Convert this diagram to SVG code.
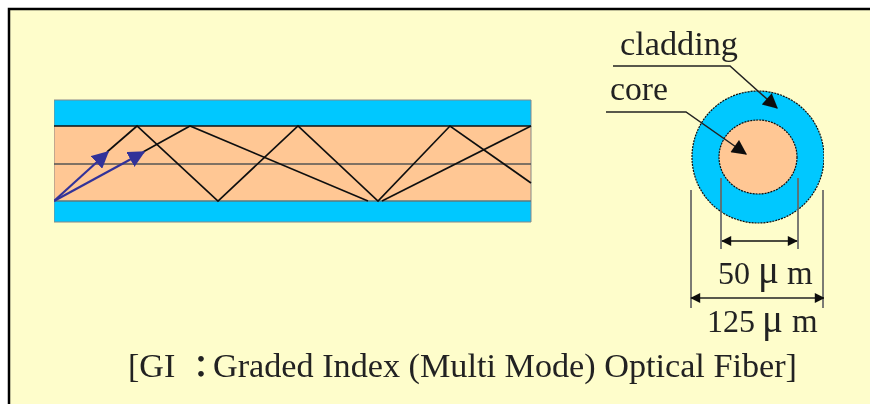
<svg xmlns="http://www.w3.org/2000/svg" width="870" height="404" viewBox="0 0 870 404">
<style>
text{font-family:"Liberation Serif","Times New Roman",serif;fill:#222}
.lbl{font-size:33px}
.mu{font-size:40px}
.cap{font-size:34px}
.ray{fill:none;stroke:#111;stroke-width:1.7}
.axis{fill:none;stroke:#555;stroke-width:1.5}
.dim{fill:none;stroke:#666;stroke-width:1.7}
.lead{fill:none;stroke:#222;stroke-width:1.5}
.clad{fill:#00c8ff}
.core{fill:#ffc794}
</style>
<defs>
<filter id="soft" x="0" y="0" width="100%" height="100%"><feGaussianBlur stdDeviation="0.45"/></filter>
<marker id="blue" viewBox="0 0 12 12" refX="11" refY="6" markerUnits="userSpaceOnUse" markerWidth="17" markerHeight="17" orient="auto"><path d="M0 0L12 6L0 12Z" fill="#333399"/></marker>
<marker id="blk" viewBox="0 0 12 12" refX="11" refY="6" markerUnits="userSpaceOnUse" markerWidth="17" markerHeight="15" orient="auto"><path d="M0 0L12 6L0 12Z" fill="#111"/></marker>
<marker id="dimA" viewBox="0 0 12 12" refX="11" refY="6" markerUnits="userSpaceOnUse" markerWidth="12" markerHeight="10" orient="auto-start-reverse"><path d="M0 0L12 6L0 12Z" fill="#111"/></marker>
</defs>
<rect x="0" y="0" width="870" height="404" fill="#fff"/>
<rect x="9" y="9" width="861" height="395" fill="#fefdcb"/>
<path d="M9 404V9H870" fill="none" stroke="#000" stroke-width="2.5"/>
<g filter="url(#soft)">
<g id="fiber-side">
<rect class="clad" x="54" y="100" width="477" height="26"/>
<rect class="clad" x="54" y="201" width="477" height="21"/>
<rect class="core" x="54" y="126" width="477" height="75"/>
<path d="M54 100H531V222H54Z" fill="none" stroke="#888" stroke-width="1"/>
<path d="M54 126H531" stroke="#111" stroke-width="1.5"/>
<path d="M54 201H531" stroke="#5a7a80" stroke-width="1.5"/>
<path class="axis" d="M54 164H531"/>
</g>
<g id="fiber-section">
<ellipse class="clad" cx="758" cy="157" rx="66" ry="66" stroke="#111" stroke-width="1.2" stroke-dasharray="2 1"/>
<ellipse class="core" cx="758" cy="157" rx="39" ry="37" stroke="#111" stroke-width="1.2" stroke-dasharray="2 1"/>
</g>
<g id="connectors">
<path class="ray" d="M107 152L137 126L218 201L298 126L378 201L450 126L531 183"/>
<path class="ray" d="M143 152L190 126L368 201"/>
<path class="ray" d="M382 201L531 126"/>
<path d="M54 201L108 152" fill="none" stroke="#333399" stroke-width="2.2" marker-end="url(#blue)"/>
<path d="M54 201L144 152" fill="none" stroke="#333399" stroke-width="2.2" marker-end="url(#blue)"/>
<path class="dim" d="M691 190V308M721 178V249M798 178V249M823 190V308"/>
<path d="M722 241H797" fill="none" stroke="#111" stroke-width="1.7" marker-start="url(#dimA)" marker-end="url(#dimA)"/>
<path d="M691 298H824" fill="none" stroke="#222" stroke-width="1.7" marker-start="url(#dimA)" marker-end="url(#dimA)"/>
</g>
<g id="label-cladding">
<text x="620" y="55" style="font-size:34px" textLength="118" lengthAdjust="spacingAndGlyphs">cladding</text>
<path class="lead" d="M613 66H730L777 108" marker-end="url(#blk)"/>
</g>
<g id="label-core">
<text class="lbl" x="610" y="100" textLength="58" lengthAdjust="spacingAndGlyphs">core</text>
<path class="lead" d="M606 112H686L746 154" marker-end="url(#blk)"/>
</g>
<g id="label-50">
<text class="lbl" x="718" y="284" style="font-size:32px">50</text>
<text class="mu" x="758" y="283" textLength="21" lengthAdjust="spacingAndGlyphs">μ</text>
<text class="lbl" x="787" y="284">m</text>
</g>
<g id="label-125">
<text class="lbl" x="707" y="332" style="font-size:32px">125</text>
<text class="mu" x="762" y="332" textLength="21" lengthAdjust="spacingAndGlyphs">μ</text>
<text class="lbl" x="792" y="332">m</text>
</g>
<g id="caption">
<text class="cap" x="128" y="377">[GI</text>
<text x="186" y="377" style="font-size:30px;font-weight:bold;font-family:'Noto Sans CJK JP','Liberation Serif',sans-serif">：</text>
<text class="cap" x="213" y="377" textLength="584" lengthAdjust="spacingAndGlyphs">Graded Index (Multi Mode) Optical Fiber]</text>
</g>
</g>
</svg>
